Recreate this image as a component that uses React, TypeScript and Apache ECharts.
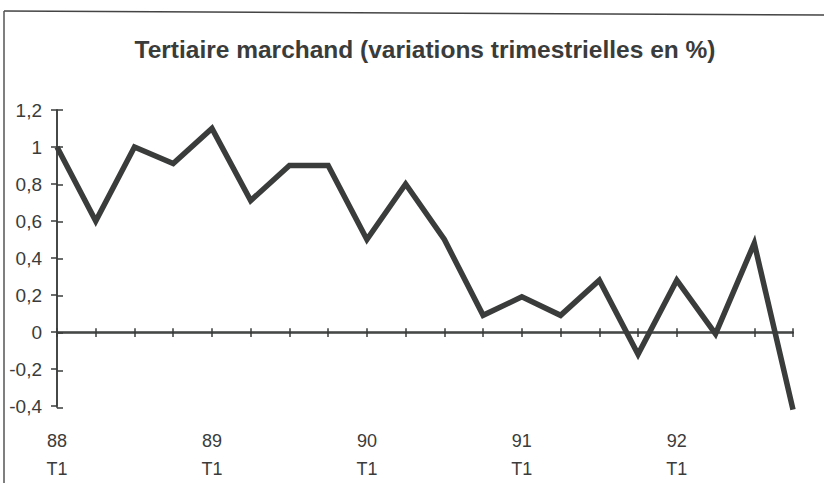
import React, { useEffect, useRef } from "react";
import * as echarts from "echarts";

const categories = [
  "88 T1", "88 T2", "88 T3", "88 T4",
  "89 T1", "89 T2", "89 T3", "89 T4",
  "90 T1", "90 T2", "90 T3", "90 T4",
  "91 T1", "91 T2", "91 T3", "91 T4",
  "92 T1", "92 T2", "92 T3", "92 T4",
];
const values = [
  1.0, 0.6, 1.0, 0.91,
  1.1, 0.71, 0.9, 0.9,
  0.5, 0.8, 0.5, 0.09,
  0.19, 0.09, 0.28, -0.12,
  0.28, -0.01, 0.48, -0.42,
];
const titleText = "Tertiaire marchand (variations trimestrielles en %)";
const yMin = -0.4;
const yMax = 1.2;
const yInterval = 0.2;

const INK = "#3a3c3b";

export default function App() {
  const ref = useRef<HTMLDivElement>(null);
  useEffect(() => {
    if (!ref.current) return;
    const chart = echarts.init(ref.current, undefined, { renderer: "svg" });
    const fmt = (v: number) => {
      const r = Math.round(v * 10) / 10;
      return String(r).replace(".", ",");
    };
    const gridBox = { left: 57, right: 31, top: 110, bottom: 75.5, containLabel: false };
    const yBase = {
      type: "value" as const,
      min: yMin,
      max: yMax,
      interval: yInterval,
      splitLine: { show: false },
    };
    const lineSt = { color: INK, width: 1.5 };
    chart.setOption({
      animation: false,
      backgroundColor: "#ffffff",
      grid: [gridBox, gridBox],
      graphic: [
        {
          type: "line",
          shape: { x1: 4, y1: 11, x2: 824, y2: 15 },
          style: { stroke: "#444", lineWidth: 1.5 },
        },
        {
          type: "line",
          shape: { x1: 4, y1: 11, x2: 4, y2: 483 },
          style: { stroke: "#555", lineWidth: 1.5 },
        },
        {
          type: "text",
          x: 425,
          y: 49,
          style: {
            text: titleText,
            fill: INK,
            font: "bold 24.5px 'Liberation Sans', Arial, sans-serif",
            align: "center",
            verticalAlign: "middle",
          },
        },
      ],
      xAxis: [
        {
          gridIndex: 0,
          type: "category",
          data: categories,
          boundaryGap: false,
          position: "bottom",
          axisLine: { show: true, onZero: true, lineStyle: lineSt },
          axisTick: { show: true, interval: 0, length: 5, lineStyle: lineSt },
          axisLabel: { show: false },
          splitLine: { show: false },
        },
        {
          gridIndex: 1,
          type: "category",
          data: categories,
          boundaryGap: false,
          position: "bottom",
          axisLine: { show: true, onZero: true, lineStyle: lineSt },
          axisTick: { show: true, inside: true, interval: 0, length: 5, lineStyle: lineSt },
          axisLabel: { show: false },
          splitLine: { show: false },
        },
        {
          gridIndex: 0,
          type: "category",
          data: categories,
          boundaryGap: false,
          position: "bottom",
          axisLine: { show: false, onZero: false },
          axisTick: { show: false },
          axisLabel: {
            show: true,
            interval: 0,
            margin: 21,
            color: INK,
            fontFamily: "'Liberation Sans', Arial, sans-serif",
            fontSize: 18,
            lineHeight: 28,
            formatter: (v: string) => {
              const [yr, q] = v.split(" ");
              return q === "T1" ? yr + "\n" + q : "";
            },
          },
          splitLine: { show: false },
        },
      ],
      yAxis: [
        {
          ...yBase,
          gridIndex: 0,
          position: "left",
          axisLine: { show: true, lineStyle: lineSt },
          axisTick: { show: true, length: 6, lineStyle: lineSt },
          axisLabel: {
            margin: 15,
            color: INK,
            fontFamily: "'Liberation Sans', Arial, sans-serif",
            fontSize: 19,
            formatter: fmt,
          },
        },
        {
          ...yBase,
          gridIndex: 1,
          position: "left",
          axisLine: { show: true, lineStyle: lineSt },
          axisTick: { show: true, inside: true, length: 6, lineStyle: lineSt },
          axisLabel: { show: false },
        },
      ],
      series: [
        {
          type: "line",
          data: values,
          xAxisIndex: 1,
          yAxisIndex: 1,
          symbol: "none",
          silent: true,
          z: 1,
          lineStyle: { opacity: 0, width: 0 },
        },
        {
          type: "line",
          data: values,
          xAxisIndex: 0,
          yAxisIndex: 0,
          symbol: "none",
          clip: false,
          z: 3,
          lineStyle: { color: INK, width: 5.5, join: "miter" },
        },
      ],
    });
    return () => chart.dispose();
  }, []);
  return (
    <div
      ref={ref}
      style={{ position: "fixed", left: 0, top: 0, width: 824, height: 483 }}
    />
  );
}
